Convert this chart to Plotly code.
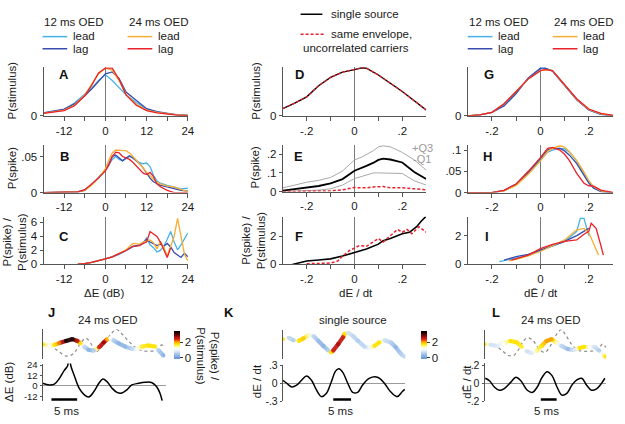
import plotly.graph_objects as go
from plotly.colors import sample_colorscale

W, H = 625, 424
FONT = "Liberation Sans, Arial, Helvetica, sans-serif"
FS = 11.5
TXT = "#1a1a1a"
AXC = "#555555"
ZC = "#7a7a7a"

C_LEAD12 = "#47b2e8"
C_LAG12 = "#3a4cad"
C_LEAD24 = "#f6ae34"
C_LAG24 = "#ea2229"
C_SINGLE = "#000000"
C_UNC = "#e8202a"
C_Q = "#a8a8a8"
C_DOT = "#8a8a8a"

# ================= DATA =================
# Panel A : P(stimulus) vs dE (dB)
A_x = [-18, -15, -12, -9, -6, -4, -2, 0, 2, 4, 6, 9, 12, 15, 18, 21, 24]
A_lead12 = [0.06, 0.09, 0.13, 0.27, 0.45, 0.58, 0.74, 0.86, 0.74, 0.60, 0.44, 0.28, 0.14, 0.08, 0.04, 0.02, 0.01]
A_lag12 = [0.06, 0.10, 0.14, 0.25, 0.42, 0.56, 0.72, 0.88, 0.92, 0.78, 0.50, 0.32, 0.15, 0.09, 0.05, 0.02, 0.01]
A_lead24 = [0.05, 0.08, 0.12, 0.22, 0.44, 0.66, 0.88, 1.00, 0.96, 0.74, 0.45, 0.24, 0.12, 0.07, 0.04, 0.02, 0.01]
A_lag24 = [0.05, 0.08, 0.11, 0.21, 0.42, 0.64, 0.90, 1.00, 1.00, 0.76, 0.44, 0.22, 0.11, 0.06, 0.03, 0.015, 0.01]

# Panel B : P(spike) vs dE
B_x = [-18, -10, -8, -6, -4, -2, 0, 1, 2, 3, 4, 5, 6, 7, 8, 9, 10, 11, 12, 13, 14, 15, 16, 18, 20, 22, 24]
B_lead12 = [0, 0, 0.001, 0.004, 0.011, 0.020, 0.032, 0.038, 0.046, 0.050, 0.046, 0.044, 0.047, 0.050, 0.048, 0.045, 0.041, 0.040, 0.041, 0.036, 0.024, 0.016, 0.013, 0.010, 0.007, 0.005, 0.006]
B_lag12 = [0, 0, 0.001, 0.003, 0.011, 0.021, 0.031, 0.040, 0.050, 0.052, 0.048, 0.044, 0.048, 0.051, 0.048, 0.044, 0.040, 0.034, 0.026, 0.020, 0.015, 0.012, 0.010, 0.008, 0.005, 0.003, 0.002]
B_lead24 = [0, 0, 0.001, 0.003, 0.010, 0.020, 0.033, 0.045, 0.055, 0.059, 0.058, 0.058, 0.058, 0.055, 0.050, 0.045, 0.040, 0.034, 0.028, 0.023, 0.018, 0.014, 0.012, 0.009, 0.008, 0.004, 0.001]
B_lag24 = [0, 0, 0.001, 0.004, 0.012, 0.020, 0.030, 0.038, 0.050, 0.056, 0.055, 0.050, 0.048, 0.046, 0.042, 0.037, 0.032, 0.027, 0.025, 0.028, 0.022, 0.012, 0.008, 0.003, 0.0, 0.0, 0.0]

# Panel C : P(spike)/P(stimulus) vs dE
C_x = [-8, -6, -4, -2, 0, 2, 4, 6, 8, 10, 11, 12, 13, 14, 15, 16, 17, 18, 19, 20, 21, 22, 23, 24]
C_lead12 = [0.05, 0.12, 0.3, 0.5, 0.8, 1.1, 1.45, 2.0, 2.5, 2.8, 3.1, 3.8, 2.8, 2.4, 1.8, 2.0, 2.6, 3.6, 4.7, 3.2, 2.1, 2.8, 3.6, 4.5]
C_lag12 = [0.05, 0.12, 0.3, 0.5, 0.8, 1.1, 1.5, 2.0, 2.6, 2.8, 3.1, 3.6, 3.2, 3.0, 2.7, 2.9, 2.6, 3.0, 2.5, 1.7, 1.3, 1.0, 1.6, 1.1]
C_lead24 = [0.05, 0.12, 0.3, 0.5, 0.8, 1.1, 1.55, 2.1, 3.0, 2.9, 3.2, 3.3, 3.5, 3.1, 2.2, 3.3, 2.5, 1.2, 2.5, 4.0, 6.6, 4.2, 1.5, 0.5]
C_lag24 = [0.05, 0.12, 0.3, 0.5, 0.8, 1.1, 1.5, 2.0, 2.6, 2.7, 3.0, 3.2, 4.7, 4.4, 4.0, 3.2, 2.0, 1.0, 2.4, None, None, None, None, None]

# Panel D : P(stimulus) vs dE/dt
D_x = [-0.3, -0.25, -0.2, -0.15, -0.1, -0.05, 0, 0.03, 0.05, 0.1, 0.15, 0.2, 0.25, 0.3]
D_single = [0.15, 0.26, 0.39, 0.62, 0.79, 0.90, 0.95, 0.99, 0.98, 0.84, 0.67, 0.50, 0.31, 0.12]
D_unc = [0.15, 0.26, 0.39, 0.62, 0.79, 0.90, 0.95, 0.99, 0.98, 0.84, 0.67, 0.50, 0.31, 0.12]

# Panel E : P(spike) vs dE/dt
E_x = [-0.3, -0.25, -0.2, -0.15, -0.1, -0.05, 0, 0.03, 0.05, 0.08, 0.1, 0.12, 0.15, 0.2, 0.25, 0.3]
E_single = [0.005, 0.012, 0.02, 0.03, 0.044, 0.067, 0.112, 0.13, 0.138, 0.155, 0.17, 0.177, 0.172, 0.156, 0.105, 0.067]
E_q3 = [0.02, 0.035, 0.05, 0.06, 0.076, 0.11, 0.17, 0.185, 0.2, 0.22, 0.24, 0.245, 0.24, 0.21, 0.17, 0.115]
E_q1 = [0, 0.002, 0.004, 0.008, 0.015, 0.035, 0.07, 0.08, 0.09, 0.1, 0.1, 0.1, 0.1, 0.097, 0.058, 0.035]
E_unc = [0, 0, 0.001, 0.002, 0.004, 0.01, 0.022, 0.02, 0.02, 0.025, 0.025, 0.027, 0.02, 0.02, 0.015, 0.01]

# Panel F : P(spike)/P(stimulus) vs dE/dt
F_x_single = [-0.26, -0.2, -0.15, -0.1, -0.05, 0, 0.05, 0.1, 0.12, 0.15, 0.2, 0.23, 0.26, 0.28, 0.3]
F_single = [0, 0.25, 0.32, 0.4, 0.6, 0.85, 1.1, 1.45, 1.7, 1.85, 2.2, 2.3, 2.7, 3.1, 3.45]
F_x_unc = [-0.2, -0.15, -0.1, -0.07, -0.05, -0.02, 0, 0.02, 0.05, 0.08, 0.1, 0.12, 0.15, 0.18, 0.2, 0.22, 0.24, 0.27, 0.3]
F_unc = [0.05, 0.07, 0.1, 0.25, 0.6, 1.0, 1.2, 1.35, 1.3, 1.6, 1.85, 1.6, 2.05, 2.5, 2.3, 2.5, 2.2, 2.7, 2.3]

# Panel G : P(stimulus) vs dEbar/dt
G_x = [-0.3, -0.25, -0.2, -0.15, -0.1, -0.05, 0, 0.02, 0.05, 0.1, 0.15, 0.2, 0.25, 0.3]
G_lead12 = [0.0, 0.02, 0.07, 0.22, 0.48, 0.77, 0.97, 0.98, 0.92, 0.62, 0.33, 0.12, 0.03, 0.005]
G_lag12 = [0.0, 0.02, 0.07, 0.20, 0.46, 0.78, 0.98, 0.98, 0.92, 0.62, 0.33, 0.12, 0.03, 0.005]
G_lead24 = [0.0, 0.02, 0.07, 0.25, 0.50, 0.76, 0.93, 0.95, 0.93, 0.63, 0.34, 0.13, 0.04, 0.008]
G_lag24 = [0.0, 0.02, 0.07, 0.25, 0.50, 0.76, 0.93, 0.95, 0.93, 0.64, 0.35, 0.14, 0.05, 0.01]

# Panel H : P(spike) vs dEbar/dt
H_x = [-0.3, -0.2, -0.15, -0.1, -0.05, 0, 0.03, 0.05, 0.08, 0.1, 0.12, 0.15, 0.18, 0.2, 0.22, 0.25, 0.3]
H_lead12 = [0, 0, 0.004, 0.018, 0.045, 0.076, 0.095, 0.100, 0.104, 0.103, 0.095, 0.074, 0.045, 0.025, 0.012, 0.003, 0]
H_lag12 = [0, 0, 0.005, 0.020, 0.047, 0.080, 0.100, 0.104, 0.104, 0.098, 0.088, 0.068, 0.040, 0.022, 0.010, 0.002, 0]
H_lead24 = [0, 0, 0.004, 0.017, 0.043, 0.074, 0.097, 0.104, 0.110, 0.107, 0.096, 0.075, 0.048, 0.028, 0.014, 0.004, 0]
H_lag24 = [0, 0, 0.005, 0.020, 0.050, 0.082, 0.104, 0.106, 0.100, 0.090, 0.075, 0.045, 0.022, 0.016, 0.015, 0.006, 0]

# Panel I : P(spike)/P(stimulus) vs dEbar/dt
I_x_lead12 = [-0.17, -0.1, -0.05, 0, 0.05, 0.1, 0.13, 0.15, 0.165, 0.18, 0.2]
I_lead12 = [0.2, 0.45, 0.62, 0.95, 1.25, 1.6, 2.0, 2.3, 3.2, 3.2, 2.0]
I_x_lag12 = [-0.15, -0.1, -0.05, 0, 0.05, 0.1, 0.15, 0.18, 0.2]
I_lag12 = [0.3, 0.55, 0.7, 1.0, 1.3, 1.6, 2.0, 2.3, 2.5]
I_x_lead24 = [-0.13, -0.1, -0.05, 0, 0.05, 0.1, 0.15, 0.18, 0.2, 0.22, 0.24]
I_lead24 = [0.25, 0.35, 0.6, 0.9, 1.3, 1.7, 2.4, 2.5, 2.2, 1.4, 0.65]
I_x_lag24 = [-0.12, -0.1, -0.05, 0, 0.05, 0.1, 0.15, 0.18, 0.2, 0.21, 0.23, 0.25, 0.26]
I_lag24 = [0.3, 0.4, 0.65, 1.1, 1.4, 1.6, 1.7, 2.1, 2.3, 2.85, 2.5, 1.3, 0.65]

# Panel J (24 ms OED): time (ms), envelope traces and dE
J_t = [0.06, 1.35, 2.3, 3.27, 4.55, 5.8, 6.8, 7.4, 8.1, 9.0, 10.0, 11.0, 11.9, 12.6, 13.2, 13.8, 14.8, 16.1, 17.4, 18.3, 19.3, 20.6, 21.9, 22.5, 23.5]
J_env = [0.48, 0.43, 0.46, 0.52, 0.59, 0.65, 0.59, 0.51, 0.40, 0.29, 0.27, 0.38, 0.54, 0.65, 0.68, 0.61, 0.51, 0.40, 0.33, 0.31, 0.40, 0.44, 0.40, 0.29, 0.11]
J_ratio = [1.8, 1.2, 1.8, 2.2, 3.3, 3.3, 2.6, 1.8, 0.7, 0.3, 0.6, 2.5, 2.8, 2.0, 1.2, 0.6, 0.3, 0.35, 0.7, 1.1, 1.7, 1.8, 1.8, 0.6, 0.3]
J_t_other = [0.3, 1.35, 2.3, 3.3, 4.55, 5.5, 6.5, 7.4, 8.4, 9.3, 10.3, 11.3, 12.3, 13.5, 14.4, 15.4, 16.7, 18.0, 19.3, 20.9, 22.2, 23.2, 23.7]
J_env_other = [0.46, 0.45, 0.35, 0.22, 0.09, 0.11, 0.27, 0.51, 0.68, 0.54, 0.22, 0.36, 0.58, 0.86, 0.97, 0.83, 0.59, 0.38, 0.27, 0.25, 0.29, 0.46, 0.35]
J_t_dE = [0, 1.35, 2.3, 3.27, 4.23, 4.87, 5.2, 5.52, 6.15, 7.12, 8.08, 9.04, 10.0, 10.96, 11.73, 12.56, 13.52, 14.48, 15.44, 16.4, 17.37, 18.65, 19.94, 21.21, 22.17, 22.83, 23.27]
J_dE = [3, 1, 2, 8.6, 18, 23, 36, 23, 12.4, -2.6, -10, -12.7, -6.4, 3, 7.9, 4.8, -2.6, -7.5, -8.2, -4.5, 1.1, 3, 4.2, 4, -0.8, -8.2, -17]

# Panel K (single source)
K_t = [0, 1.67, 3.06, 4.44, 5.83, 7.22, 8.61, 10.0, 11.39, 12.78, 13.53, 14.17, 15.56, 16.94, 17.42, 18.33, 19.72, 21.11, 22.97, 24.36, 25.75, 27.14, 28.53, 30.36, 31.75, 33.14, 34.25]
K_env = [0.67, 0.72, 0.63, 0.61, 0.7, 0.81, 0.78, 0.61, 0.44, 0.28, 0.22, 0.28, 0.5, 0.74, 0.86, 0.89, 0.78, 0.61, 0.41, 0.37, 0.44, 0.56, 0.63, 0.56, 0.39, 0.17, 0.06]
K_ratio = [1.8, 0.7, 0.6, 1.8, 1.9, 1.4, 0.7, 0.4, 0.3, 0.6, 1.8, 2.5, 2.7, 2.5, 1.8, 0.8, 0.7, 0.6, 0.7, 1.1, 1.8, 1.8, 0.8, 0.6, 0.3, 0.6, 0.7]
K_t_d = [0, 1.11, 2.5, 3.89, 5.28, 6.67, 8.06, 9.44, 10.83, 12.22, 13.61, 14.81, 15.75, 16.86, 18.25, 19.64, 21.03, 22.42, 24.25, 26.58, 28.42, 30.28, 32.14, 33.53, 34.25]
K_d = [0.05, 0, -0.06, -0.03, 0.05, 0.12, 0.05, -0.11, -0.22, -0.17, 0.02, 0.2, 0.24, 0.18, 0, -0.15, -0.15, -0.03, 0.08, 0.1, 0.01, -0.14, -0.22, -0.14, -0.1]

# Panel L (24 ms OED, mean envelope slope)
L_t = [0, 1.88, 3.97, 6.03, 8.13, 10.22, 11.78, 13.34, 14.91, 16.47, 18.03, 19.59, 21.16, 22.72, 24.28, 26.34, 28.44, 30, 31.56, 33.13, 34.69, 36.25, 37.81, 38.34]
L_env = [0.5, 0.48, 0.44, 0.52, 0.61, 0.56, 0.41, 0.26, 0.19, 0.26, 0.44, 0.61, 0.67, 0.56, 0.44, 0.33, 0.3, 0.37, 0.41, 0.39, 0.41, 0.28, 0.11, 0.06]
L_ratio = [1.8, 0.8, 0.9, 1.2, 1.8, 1.8, 1.7, 0.8, 0.9, 1.5, 1.8, 2.1, 2.1, 1.4, 0.7, 0.4, 0.9, 1.8, 1.8, 1.2, 0.8, 0.6, 1.6, 1.8]
L_t_other = [0.84, 3.44, 5.53, 7.59, 9.16, 10.72, 12.28, 13.84, 15.41, 17.5, 19.06, 21.16, 22.72, 24.28, 25.84, 27.91, 30, 33.13, 35.72, 37.28, 38.34]
L_env_other = [0.48, 0.44, 0.28, 0.11, 0.11, 0.3, 0.61, 0.72, 0.61, 0.3, 0.22, 0.5, 0.83, 1.0, 0.78, 0.44, 0.28, 0.26, 0.3, 0.5, 0.39]
L_t_d = [0.22, 1.56, 3.13, 4.69, 6.25, 8.34, 9.91, 11.47, 13.53, 15.09, 16.66, 18.22, 19.78, 21.34, 22.91, 24.47, 26.03, 27.59, 29.16, 30.72, 32.28, 33.84, 35.41, 36.97, 38.03]
L_d = [0.057, 0.03, -0.04, -0.076, -0.057, 0.014, 0.068, 0.03, -0.076, -0.1, -0.04, 0.068, 0.13, 0.086, -0.04, -0.13, -0.11, -0.02, 0.04, 0.057, -0.02, -0.076, -0.06, 0, 0.057]

# scale bars (ms)
SCALE_MS = 5
J_bar_start = 1.73
K_bar_start = 14.17
L_bar_start = 17.8

# tick labels
TICK_dE = [-12, -6, 0, 6, 12, 18, 24]
TICK_dE_TXT = ["-12", "", "0", "", "12", "", "24"]
TICK_SLOPE = [-0.2, -0.1, 0, 0.1, 0.2]
TICK_SLOPE_TXT = ["-.2", "", "0", "", ".2"]

# ================= FIGURE =================
CMIN, CMAX = -0.125, 3.5
CSCALE = [[0.0, "rgb(96,146,212)"], [0.145, "rgb(150,188,232)"], [0.28, "rgb(222,234,247)"],
          [0.366, "rgb(255,255,255)"], [0.45, "rgb(255,248,150)"], [0.53, "rgb(255,228,0)"],
          [0.614, "rgb(248,160,0)"], [0.697, "rgb(230,40,25)"], [0.80, "rgb(160,10,10)"],
          [0.91, "rgb(50,0,0)"], [1.0, "rgb(0,0,0)"]]

fig = go.Figure()


def xd(a, b):
    return [a / W, b / W]


def yd(top, bot):
    return [1 - bot / H, 1 - top / H]


def PX(x):
    return x / W


def PY(y):
    return 1 - y / H


def axn(i):
    return ("x" if i == 1 else f"x{i}"), ("y" if i == 1 else f"y{i}")


LAY = {}


def axis_pair(i, xpx, ypx, xr, yr, xt=None, xtt=None, yt=None, ytt=None,
              xvis=True, yticks=True, xzero=False, yzero=False, yfs=FS, yticklen=3):
    xk = "xaxis" if i == 1 else f"xaxis{i}"
    yk = "yaxis" if i == 1 else f"yaxis{i}"
    xn, yn = axn(i)
    tf = dict(family=FONT, size=FS, color=TXT)
    xa = dict(domain=xd(*xpx), range=xr, anchor=yn, showgrid=False, fixedrange=True,
              visible=xvis, showline=True, linecolor=AXC, linewidth=1,
              ticks="outside" if xt is not None else "", ticklen=4, tickcolor=AXC,
              tickfont=tf, zeroline=xzero, zerolinecolor=ZC, zerolinewidth=1)
    if xt is not None:
        xa.update(tickmode="array", tickvals=xt, ticktext=xtt)
    else:
        xa.update(showticklabels=False)
    ya = dict(domain=yd(*ypx), range=yr, anchor=xn, showgrid=False, fixedrange=True,
              showline=True, linecolor=AXC, linewidth=1,
              ticks="outside" if yticks else "", ticklen=yticklen, tickcolor=AXC,
              tickfont=dict(family=FONT, size=yfs, color=TXT),
              zeroline=yzero, zerolinecolor="#9a9a9a", zerolinewidth=1)
    if yt is not None:
        ya.update(tickmode="array", tickvals=yt, ticktext=ytt)
    else:
        ya.update(showticklabels=False, ticks="")
    LAY[xk] = xa
    LAY[yk] = ya


# top panels
axis_pair(1, (44, 190), (63, 113), [-18, 24], [0, 1.02], TICK_dE, TICK_dE_TXT, [0], ["0"], xzero=True)
axis_pair(2, (44, 190), (143, 192), [-18, 24], [0, 0.066], TICK_dE, TICK_dE_TXT, [0, 0.05], ["0", ".05"], xzero=True)
axis_pair(3, (44, 190), (217, 266), [-18, 24], [0, 6.8], TICK_dE, TICK_dE_TXT, [0, 2, 4, 6], ["0", "2", "4", "6"], xzero=True)
axis_pair(4, (286, 431), (63, 113), [-0.3, 0.3], [0, 1.0], TICK_SLOPE, TICK_SLOPE_TXT, [0], ["0"], xzero=True)
axis_pair(5, (286, 431), (143, 191), [-0.3, 0.3], [0, 0.25], TICK_SLOPE, TICK_SLOPE_TXT, [0, 0.1, 0.2], ["0", ".1", ".2"], xzero=True)
axis_pair(6, (286, 431), (217, 266), [-0.3, 0.3], [0, 3.4], TICK_SLOPE, TICK_SLOPE_TXT, [0, 2], ["0", "2"], xzero=True)
axis_pair(7, (473, 620), (63, 113), [-0.3, 0.3], [0, 1.0], TICK_SLOPE, TICK_SLOPE_TXT, [0], ["0"], xzero=True)
axis_pair(8, (473, 620), (143, 192), [-0.3, 0.3], [0, 0.112], TICK_SLOPE, TICK_SLOPE_TXT, [0, 0.05, 0.1], ["0", ".05", ".1"], xzero=True)
axis_pair(9, (473, 620), (217, 266), [-0.3, 0.3], [0, 3.3], TICK_SLOPE, TICK_SLOPE_TXT, [0, 2], ["0", "2"], xzero=True)
# bottom panels
axis_pair(10, (43, 168), (332, 363), [0, 24.04], [0, 1], xvis=False, yticks=False)
axis_pair(11, (43, 168), (368, 407), [0, 24.04], [-18, 25.8], yt=[24, 12, 0, -12], ytt=["24", "12", "0", "-12"],
          xvis=False, yzero=True, yfs=9.5, yticklen=2)
axis_pair(12, (286, 410), (333, 363), [0, 34.44], [0, 1], xvis=False, yticks=False)
axis_pair(13, (286, 410), (369.5, 407), [0, 34.44], [-0.3, 0.3], yt=[0.3, 0, -0.3], ytt=[".3", "0", "-.3"],
          xvis=False, yzero=True, yfs=10.5, yticklen=2)
axis_pair(14, (490, 613), (333, 363), [0, 38.44], [0, 1], xvis=False, yticks=False)
axis_pair(15, (490, 613), (367, 407), [0, 38.44], [-0.2, 0.23], yt=[0.2, 0, -0.2], ytt=[".2", "0", "-.2"],
          xvis=False, yzero=True, yfs=10.5, yticklen=2)


def line(i, x, y, color, width=1.3, dash=None, shape="linear"):
    xn, yn = axn(i)
    fig.add_trace(go.Scatter(x=x, y=y, mode="lines", xaxis=xn, yaxis=yn,
                             line=dict(color=color, width=width, dash=dash, shape=shape),
                             showlegend=False, hoverinfo="skip", connectgaps=False))


def four(i, x, a, b, c, d):
    line(i, x, a, C_LEAD12)
    line(i, x, b, C_LAG12)
    line(i, x, c, C_LEAD24)
    line(i, x, d, C_LAG24)


four(1, A_x, A_lead12, A_lag12, A_lead24, A_lag24)
four(2, B_x, B_lead12, B_lag12, B_lead24, B_lag24)
four(3, C_x, C_lead12, C_lag12, C_lead24, C_lag24)

line(4, D_x, D_single, C_SINGLE, 1.4)
line(4, D_x, D_unc, C_UNC, 1.3, "3px,2px")
line(5, E_x, E_q3, C_Q, 1.0)
line(5, E_x, E_q1, C_Q, 1.0)
line(5, E_x, E_single, C_SINGLE, 1.8)
line(5, E_x, E_unc, C_UNC, 1.5, "3px,2px")
line(6, F_x_single, F_single, C_SINGLE, 1.6)
line(6, F_x_unc, F_unc, C_UNC, 1.5, "3px,2px")

four(7, G_x, G_lead12, G_lag12, G_lead24, G_lag24)
four(8, H_x, H_lead12, H_lag12, H_lead24, H_lag24)
line(9, I_x_lead12, I_lead12, C_LEAD12)
line(9, I_x_lag12, I_lag12, C_LAG12)
line(9, I_x_lead24, I_lead24, C_LEAD24)
line(9, I_x_lag24, I_lag24, C_LAG24)


def colored(i, t, v, c, cb_x=None):
    xn, yn = axn(i)
    mids = [((c[k] + c[k + 1]) / 2 - CMIN) / (CMAX - CMIN) for k in range(len(c) - 1)]
    cols = sample_colorscale(CSCALE, mids)
    for k in range(len(t) - 1):
        fig.add_trace(go.Scatter(x=[t[k], t[k + 1]], y=[v[k], v[k + 1]], mode="lines",
                                 xaxis=xn, yaxis=yn, line=dict(color=cols[k], width=4.2),
                                 opacity=0.92, showlegend=False, hoverinfo="skip"))
    mk = dict(size=4.2, color=c, colorscale=CSCALE, cmin=CMIN, cmax=CMAX, line=dict(width=0))
    if cb_x is not None:
        mk.update(showscale=True, colorbar=dict(
            x=PX(cb_x), xanchor="left", y=PY(348.5), yanchor="middle", len=29 / H, lenmode="fraction",
            thickness=6, thicknessmode="pixels", outlinewidth=0, tickvals=[0, 2], ticktext=["0", "2"],
            ticks="outside", ticklen=3, tickcolor="#333", xpad=0, ypad=0,
            tickfont=dict(family=FONT, size=FS, color=TXT)))
    fig.add_trace(go.Scatter(x=t, y=v, mode="markers", xaxis=xn, yaxis=yn, marker=mk,
                             opacity=0.92, showlegend=False, hoverinfo="skip"))


line(10, J_t_other, J_env_other, C_DOT, 1.2, "dot", "spline")
colored(10, J_t, J_env, J_ratio, cb_x=176)
line(11, J_t_dE, J_dE, "#000", 1.5, None, "spline")

colored(12, K_t, K_env, K_ratio, cb_x=426)
line(13, K_t_d, K_d, "#000", 1.5, None, "spline")

line(14, L_t_other, L_env_other, C_DOT, 1.2, "dot", "spline")
colored(14, L_t, L_env, L_ratio)
line(15, L_t_d, L_d, "#000", 1.5, None, "spline")

# ================= annotations =================
ANN = []


def ann(text, x, y, xanchor="center", yanchor="middle", size=FS, color=TXT, bold=False, angle=0, align="center"):
    if bold:
        text = f"<b>{text}</b>"
    ANN.append(dict(text=text, x=PX(x), y=PY(y), xref="paper", yref="paper", showarrow=False,
                    xanchor=xanchor, yanchor=yanchor, textangle=angle, align=align,
                    font=dict(family=FONT, size=size, color=color)))


SH = []


def seg(x0, x1, y, color, width=1.5, dash=None):
    SH.append(dict(type="line", xref="paper", yref="paper", x0=PX(x0), x1=PX(x1), y0=PY(y), y1=PY(y),
                   line=dict(color=color, width=width, dash=dash)))


# legends (columns 1 and 3)
for base in (0, 430):
    ann("12 ms OED", 42 + base, 16, "left")
    ann("24 ms OED", 128 + base, 16, "left")
    ann("lead", 72 + base, 31, "left")
    ann("lag", 72 + base, 44, "left")
    ann("lead", 158 + base, 31, "left")
    ann("lag", 158 + base, 44, "left")
    seg(43 + base, 68 + base, 31.5, C_LEAD12)
    seg(43 + base, 68 + base, 44, C_LAG12)
    seg(129 + base, 154 + base, 31.5, C_LEAD24)
    seg(129 + base, 154 + base, 44, C_LAG24)

# legend column 2
ann("single source", 333, 8, "left")
ann("same envelope,", 333, 29, "left")
ann("uncorrelated carriers", 304, 43, "left")
seg(304, 326, 8.5, C_SINGLE, 1.5)
seg(304, 328, 29, C_UNC, 1.5, "3px,2px")

# panel letters
for lt, x, y in [("A", 65, 71), ("B", 65, 155), ("C", 65, 237), ("D", 303, 71), ("E", 302, 155),
                 ("F", 302, 237), ("G", 495, 71), ("H", 493, 155), ("I", 493, 237),
                 ("J", 52, 315), ("K", 232, 315), ("L", 502, 315)]:
    ann(lt, x, y, size=13, color="#111", bold=True)

# y titles
ann("P(stimulus)", 12, 87, angle=-90)
ann("P(stimulus)", 258, 87, angle=-90)
ann("P(spike)", 12, 167, angle=-90)
ann("P(spike)", 258, 166, angle=-90)
ann("P(spike) /<br>P(stimulus)", 14, 243, angle=-90)
ann("P(spike) /<br>P(stimulus)", 256, 241, angle=-90)
ann("ΔE (dB)", 9, 387, angle=-90)
ann("dE / dt", 260, 386, angle=-90)
ann("dĒ / dt", 472, 387, angle=-90)

# x titles
ann("ΔE (dB)", 105, 295)
ann("dE / dt", 360, 295)
ann("dĒ / dt", 547, 295)

# bottom panel titles
ann("24 ms OED", 109, 323)
ann("single source", 357, 323)
ann("24 ms OED", 557, 323)

# quartile labels
ann("+Q3", 427, 146, color="#9a9a9a", size=11)
ann("-Q1", 427, 157, color="#9a9a9a", size=11)

# colorbar title
ann("P(spike) /<br>P(stimulus)", 210, 360, angle=90)

# scale bars
for i, start, cx in [(11, J_bar_start, 67), (13, K_bar_start, 344), (15, L_bar_start, 553)]:
    xn, _ = axn(i)
    SH.append(dict(type="line", xref=xn, yref="paper", x0=start, x1=start + SCALE_MS,
                   y0=PY(405), y1=PY(405), line=dict(color="#000", width=2.5)))
    ann(f"{SCALE_MS} ms", cx, 417)

fig.update_layout(
    width=W, height=H, autosize=False,
    margin=dict(l=0, r=0, t=0, b=0, pad=0),
    paper_bgcolor="white", plot_bgcolor="rgba(0,0,0,0)",
    font=dict(family=FONT, size=FS, color=TXT),
    showlegend=False,
    annotations=ANN, shapes=SH,
    **LAY,
)

fig.write_html("out.html", config={"displayModeBar": False},
               post_script="document.body.style.margin='0px';")
